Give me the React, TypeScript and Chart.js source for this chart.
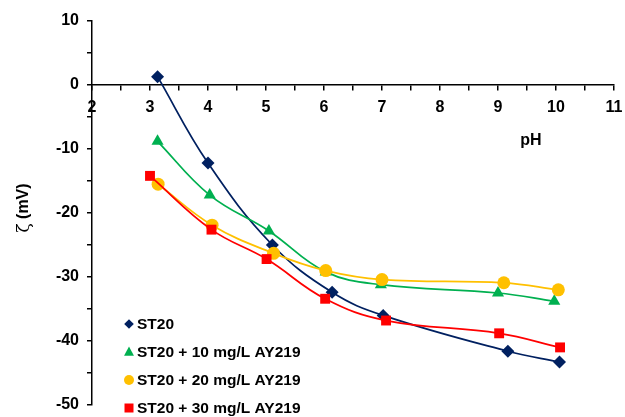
import React, { useEffect, useRef } from 'react';
import { Chart, registerables } from 'chart.js';

Chart.register(...registerables);

const seriesNames = ['ST20', 'ST20 + 10 mg/L AY219', 'ST20 + 20 mg/L AY219', 'ST20 + 30 mg/L AY219'];
const seriesColors = ['#002060', '#00B050', '#FFC000', '#FF0000'];
const seriesMarkers = ['rectRot', 'triangle', 'circle', 'rect'];

const st20X = [3.13, 4.0, 5.11, 6.14, 7.02, 9.17, 10.06];
const st20Y = [1.3, -12.2, -25.0, -32.4, -36.0, -41.6, -43.3];
const ay10X = [3.13, 4.03, 5.05, 6.03, 6.98, 9.0, 9.97];
const ay10Y = [-8.8, -17.2, -22.8, -29.2, -31.2, -32.5, -33.8];
const ay20X = [3.14, 4.07, 5.13, 6.03, 7.0, 9.1, 10.04];
const ay20Y = [-15.5, -21.9, -26.3, -29.0, -30.4, -30.9, -32.0];
const ay30X = [3.0, 4.06, 5.01, 6.02, 7.07, 9.02, 10.07];
const ay30Y = [-14.2, -22.6, -27.2, -33.4, -36.8, -38.8, -41.0];

const xMin = 2;
const xMax = 11;
const yMin = -50;
const yMax = 10;
const xAxisTitle = 'pH';
const yAxisSymbol = 'ζ';
const yAxisUnit = ' (mV)';

const seriesX = [st20X, ay10X, ay20X, ay30X];
const seriesY = [st20Y, ay10Y, ay20Y, ay30Y];

function drawMarker(ctx: CanvasRenderingContext2D, style: string, x: number, y: number, r: number) {
  ctx.beginPath();
  if (style === 'rectRot') {
    ctx.moveTo(x - r, y);
    ctx.lineTo(x, y - r);
    ctx.lineTo(x + r, y);
    ctx.lineTo(x, y + r);
  } else if (style === 'triangle') {
    ctx.moveTo(x, y - r);
    ctx.lineTo(x + r * 0.9, y + r * 0.7);
    ctx.lineTo(x - r * 0.9, y + r * 0.7);
  } else if (style === 'circle') {
    ctx.arc(x, y, r, 0, Math.PI * 2);
  } else {
    ctx.rect(x - r, y - r, 2 * r, 2 * r);
  }
  ctx.closePath();
  ctx.fill();
}

const overlayPlugin = {
  id: 'overlay',
  afterDraw(chart: any) {
    const ctx = chart.ctx as CanvasRenderingContext2D;
    const area = chart.chartArea;
    ctx.save();
    ctx.font = 'bold 15.5px "Liberation Sans", Arial, sans-serif';
    ctx.textBaseline = 'middle';
    ctx.textAlign = 'left';
    const rowOffsets = [-81, -53, -25, 3];
    const markerR = [4.8, 5.5, 5, 4.5];
    seriesNames.forEach((name, i) => {
      const y = area.bottom + rowOffsets[i];
      const mx = area.left + 37;
      ctx.fillStyle = seriesColors[i];
      drawMarker(ctx, seriesMarkers[i], mx, y, markerR[i]);
      ctx.fillStyle = '#000';
      ctx.fillText(name, mx + 8, y + 1);
    });
    ctx.font = 'bold 16px "Liberation Sans", Arial, sans-serif';
    ctx.textAlign = 'center';
    ctx.fillText(xAxisTitle, 531, 141);

    // y-axis title: symbol in serif, unit in bold sans
    const symFont = '17px "DejaVu Serif", "Liberation Serif", serif';
    const unitFont = 'bold 16px "Liberation Sans", Arial, sans-serif';
    ctx.font = symFont;
    const wSym = ctx.measureText(yAxisSymbol).width;
    ctx.font = unitFont;
    const wUnit = ctx.measureText(yAxisUnit).width;
    const total = wSym + wUnit;
    ctx.translate(24, 208);
    ctx.rotate(-Math.PI / 2);
    ctx.textAlign = 'left';
    ctx.font = symFont;
    ctx.fillText(yAxisSymbol, -total / 2, 1);
    ctx.font = unitFont;
    ctx.fillText(yAxisUnit, -total / 2 + wSym, 0);
    ctx.restore();
  },
};

export default function App() {
  const canvasRef = useRef<HTMLCanvasElement | null>(null);

  useEffect(() => {
    if (!canvasRef.current) return;
    const datasets = seriesNames.map((name, i) => ({
      label: name,
      data: seriesX[i].map((x, j) => ({ x, y: seriesY[i][j] })),
      borderColor: seriesColors[i],
      backgroundColor: seriesColors[i],
      pointBackgroundColor: seriesColors[i],
      pointBorderColor: seriesColors[i],
      pointStyle: seriesMarkers[i] as any,
      pointRadius: [6.5, 7, 6.5, 7][i],
      pointBorderWidth: 0,
      borderWidth: 1.75,
      tension: 0.4,
      showLine: true,
      order: 4 - i,
    }));

    const chart = new Chart(canvasRef.current, {
      type: 'scatter',
      data: { datasets },
      options: {
        animation: false,
        responsive: true,
        maintainAspectRatio: false,
        layout: { padding: { top: 21, right: 11, bottom: 12, left: 0 } },
        plugins: {
          legend: { display: false },
          tooltip: { enabled: false },
        },
        scales: {
          x: {
            type: 'linear',
            min: xMin,
            max: xMax,
            position: { y: 0 } as any,
            afterFit: (scale: any) => {
              scale.paddingLeft = 0;
              scale.paddingRight = 0;
              scale.paddingTop = 0;
              scale.paddingBottom = 0;
            },
            grid: { drawOnChartArea: false, drawTicks: true, tickLength: 5, color: '#000', lineWidth: 1.5 },
            border: { display: true, color: '#000', width: 1.5 },
            ticks: {
              stepSize: 0.5,
              autoSkip: false,
              maxRotation: 0,
              padding: 8,
              color: '#000',
              font: { family: '"Liberation Sans", Arial, sans-serif', size: 16, weight: 'bold' },
              callback: (v: any) => (Number(v) % 1 === 0 ? String(v) : ''),
            },
          },
          y: {
            type: 'linear',
            min: yMin,
            max: yMax,
            position: 'left',
            afterFit: (scale: any) => {
              scale.width = 92;
              scale.paddingTop = 0;
              scale.paddingBottom = 0;
            },
            grid: { drawOnChartArea: false, drawTicks: true, tickLength: 5, color: '#000', lineWidth: 1.5 },
            border: { display: true, color: '#000', width: 1.5 },
            ticks: {
              stepSize: 5,
              autoSkip: false,
              padding: 8,
              color: '#000',
              font: { family: '"Liberation Sans", Arial, sans-serif', size: 16, weight: 'bold' },
              callback: (v: any) => (Number(v) % 10 === 0 ? String(v) : ''),
            },
          },
        },
      },
      plugins: [overlayPlugin],
    });
    return () => chart.destroy();
  }, []);

  return (
    <div style={{ position: 'absolute', left: 0, top: 0, width: 625, height: 417, background: '#fff' }}>
      <canvas ref={canvasRef} />
    </div>
  );
}
